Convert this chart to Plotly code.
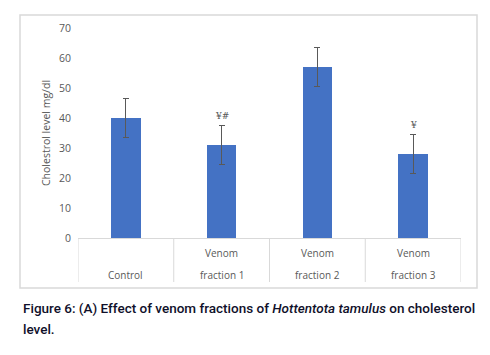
import plotly.graph_objects as go

categories = ["Control", "Venom fraction 1", "Venom fraction 2", "Venom fraction 3"]
label_top = ["", "Venom", "Venom", "Venom"]
label_bottom = ["Control", "fraction 1", "fraction 2", "fraction 3"]
values = [40, 31, 57, 28]
errors = [6.5, 6.5, 6.5, 6.5]
marks = ["", "¥#", "", "¥"]
y_ticks = [0, 10, 20, 30, 40, 50, 60, 70]

grey = "#595959"
x = list(range(len(categories)))

fig = go.Figure()
fig.add_trace(go.Bar(
    x=x, y=values, width=0.31,
    marker=dict(color="#4472C4", line=dict(width=0)),
    error_y=dict(type="data", array=errors, visible=True, color=grey, thickness=1.2, width=3),
    hoverinfo="skip",
))

ann = []
for i, m in enumerate(marks):
    if m:
        ann.append(dict(x=i, y=values[i] + errors[i], xref="x", yref="y", text=m, showarrow=False,
                        yanchor="bottom", yshift=3, font=dict(family="DejaVu Serif", size=9, color=grey)))
    if label_top[i]:
        ann.append(dict(x=i, y=0, xref="x", yref="paper", text=label_top[i], showarrow=False,
                        yanchor="middle", yshift=-15, font=dict(family="Open Sans", size=10, color=grey)))
    ann.append(dict(x=i, y=0, xref="x", yref="paper", text=label_bottom[i], showarrow=False,
                    yanchor="middle", yshift=-37, font=dict(family="Open Sans", size=10, color=grey)))

capfont = dict(family="Roboto", size=13.5, color="#10102a", weight=500)
ann.append(dict(x=21, y=308, xref="paper", yref="paper", showarrow=False, xanchor="left", yanchor="middle",
                text="Figure 6: (A) Effect of venom fractions of <i>Hottentota tamulus</i> on cholesterol",
                font=capfont))
ann.append(dict(x=21, y=329, xref="paper", yref="paper", showarrow=False, xanchor="left", yanchor="middle",
                text="level.", font=capfont))

# convert caption pixel positions to paper coords
H, W = 355, 490
ml, mr, mt, mb = 78, 29, 28, 117
pw, ph = W - ml - mr, H - mt - mb
for a in ann[-2:]:
    a["x"] = (a["x"] - ml) / pw
    a["y"] = (H - mb - a["y"]) / ph

shapes = []
for b in [-0.5, 0.5, 1.5, 2.5, 3.5]:
    shapes.append(dict(type="line", xref="x", yref="paper", x0=b, x1=b, y0=0, y1=-44 / ph,
                       line=dict(color="#d9d9d9", width=1)))
# outer chart border
shapes.append(dict(type="rect", xref="paper", yref="paper",
                   x0=(20 - ml) / pw, x1=(477 - ml) / pw, y0=(H - mb - 288) / ph, y1=(H - mb - 15) / ph,
                   line=dict(color="#d9d9d9", width=1.5)))

fig.update_layout(
    width=W, height=H, margin=dict(l=ml, r=mr, t=mt, b=mb, autoexpand=False),
    paper_bgcolor="white", plot_bgcolor="white", showlegend=False,
    annotations=ann, shapes=shapes, bargap=0,
    xaxis=dict(range=[-0.5, 3.5], showticklabels=False, ticks="", showgrid=False, zeroline=False,
               showline=False, fixedrange=True, automargin=False),
    yaxis=dict(range=[0, 70], tickvals=y_ticks, showgrid=False, zeroline=True, zerolinecolor="#d9d9d9",
               zerolinewidth=1, showline=False, ticks="", ticklen=0, ticklabelstandoff=6, automargin=False,
               tickfont=dict(family="Open Sans", size=10.5, color=grey),
               title=dict(text="Cholestrol level mg/dl", standoff=6,
                          font=dict(family="Open Sans", size=10.5, color=grey))),
)

fig.write_html("out.html", config={"displayModeBar": False},
               post_script="document.body.style.margin='0';document.body.style.overflow='hidden';")
